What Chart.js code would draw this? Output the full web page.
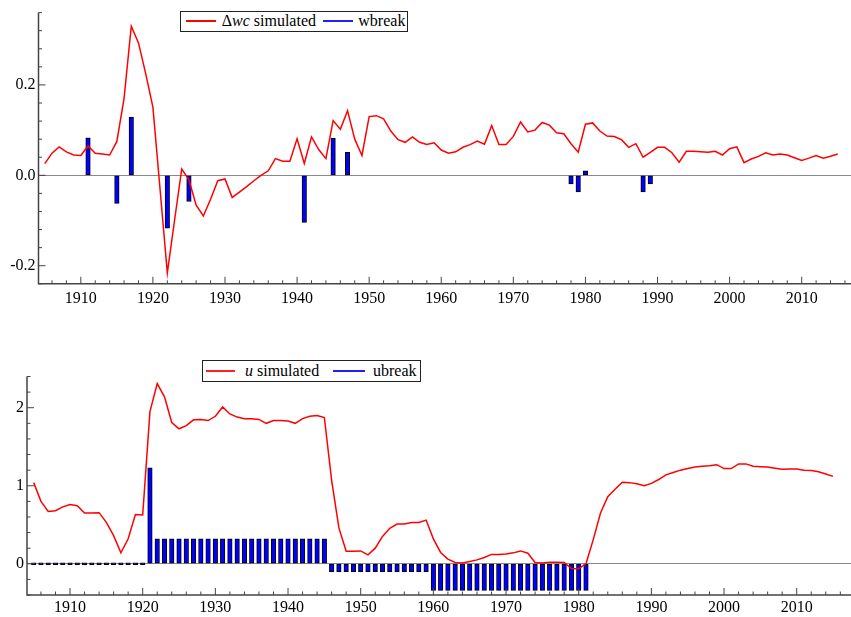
<!DOCTYPE html>
<html>
<head>
<meta charset="utf-8">
<script src="https://cdn.jsdelivr.net/npm/chart.js@4.4.1/dist/chart.umd.min.js"></script>
<style>
  body { margin: 0; background: #fff; width: 851px; height: 617px; overflow: hidden; position: relative;
         font-family: "Times New Roman", "Liberation Serif", "DejaVu Serif", serif; }
  .panel { position: absolute; left: 0; width: 851px; }
  .legend { position: absolute; background: #fff; border: 1px solid #222; box-sizing: border-box; font-size: 16px; color: #000; z-index: 2; }
  .legend .swatch { position: absolute; height: 2px; }
  .legend .label { position: absolute; white-space: nowrap; line-height: 16px; }
</style>
</head>
<body>
<div class="panel" style="top:0;height:320px"><canvas id="wc-chart"></canvas></div>
<div class="panel" style="top:340px;height:277px"><canvas id="u-chart"></canvas></div>

<div class="legend" style="left:180px;top:11px;width:228px;height:21px">
  <span class="swatch" style="left:5px;top:8px;width:30px;background:#ff0000"></span>
  <span class="label" style="left:40.7px;top:1px">&Delta;<i>wc</i> simulated</span>
  <span class="swatch" style="left:141.7px;top:8px;width:30px;background:#2020ff"></span>
  <span class="label" style="left:177.3px;top:1px">wbreak</span>
</div>
<div class="legend" style="left:202px;top:360px;width:219px;height:22px">
  <span class="swatch" style="left:3px;top:9px;width:29px;background:#ff2020"></span>
  <span class="label" style="left:42px;top:2px"><i>u</i> simulated</span>
  <span class="swatch" style="left:130px;top:9px;width:32px;background:#2020ff"></span>
  <span class="label" style="left:170px;top:2px">ubreak</span>
</div>

<script>
// years of the simulated series
const years = [
  1905, 1906, 1907, 1908, 1909, 1910, 1911, 1912, 1913, 1914,
  1915, 1916, 1917, 1918, 1919, 1920, 1921, 1922, 1923, 1924,
  1925, 1926, 1927, 1928, 1929, 1930, 1931, 1932, 1933, 1934,
  1935, 1936, 1937, 1938, 1939, 1940, 1941, 1942, 1943, 1944,
  1945, 1946, 1947, 1948, 1949, 1950, 1951, 1952, 1953, 1954,
  1955, 1956, 1957, 1958, 1959, 1960, 1961, 1962, 1963, 1964,
  1965, 1966, 1967, 1968, 1969, 1970, 1971, 1972, 1973, 1974,
  1975, 1976, 1977, 1978, 1979, 1980, 1981, 1982, 1983, 1984,
  1985, 1986, 1987, 1988, 1989, 1990, 1991, 1992, 1993, 1994,
  1995, 1996, 1997, 1998, 1999, 2000, 2001, 2002, 2003, 2004,
  2005, 2006, 2007, 2008, 2009, 2010, 2011, 2012, 2013, 2014,
  2015
];

const wcSimulated = [
  0.026, 0.049, 0.063, 0.052, 0.045, 0.044, 0.065, 0.049, 0.047, 0.045,
  0.075, 0.170, 0.330, 0.293, 0.225, 0.151, -0.032, -0.216, -0.100, 0.014,
  -0.010, -0.066, -0.090, -0.053, -0.012, -0.008, -0.049, -0.037, -0.025, -0.012,
  0.000, 0.010, 0.037, 0.031, 0.031, 0.081, 0.026, 0.085, 0.057, 0.037,
  0.121, 0.102, 0.143, 0.080, 0.044, 0.130, 0.132, 0.125, 0.098, 0.079,
  0.073, 0.085, 0.073, 0.068, 0.072, 0.056, 0.049, 0.052, 0.062, 0.068,
  0.076, 0.069, 0.110, 0.068, 0.068, 0.086, 0.118, 0.096, 0.100, 0.117,
  0.111, 0.094, 0.092, 0.070, 0.051, 0.113, 0.116, 0.098, 0.087, 0.086,
  0.079, 0.062, 0.070, 0.040, 0.051, 0.062, 0.062, 0.050, 0.029, 0.053,
  0.053, 0.052, 0.051, 0.053, 0.045, 0.059, 0.063, 0.028, 0.036, 0.042,
  0.050, 0.045, 0.047, 0.045, 0.039, 0.033, 0.038, 0.044, 0.038, 0.042,
  0.047
];

const wBreakYears = [1911, 1915, 1917, 1922, 1925, 1941, 1945, 1947, 1978, 1979, 1980, 1988, 1989];
const wBreakValues = [0.083, -0.062, 0.129, -0.117, -0.058, -0.104, 0.082, 0.051, -0.019, -0.037, 0.010, -0.037, -0.019];

const uSimulated = [
  1.04, 0.80, 0.67, 0.68, 0.73, 0.76, 0.745, 0.65, 0.65, 0.655,
  0.53, 0.36, 0.14, 0.32, 0.63, 0.625, 1.95, 2.31, 2.14, 1.81,
  1.73, 1.77, 1.845, 1.85, 1.835, 1.89, 2.01, 1.92, 1.88, 1.86,
  1.86, 1.85, 1.80, 1.835, 1.835, 1.83, 1.80, 1.86, 1.89, 1.90,
  1.875, 1.07, 0.46, 0.16, 0.16, 0.165, 0.115, 0.20, 0.35, 0.455,
  0.51, 0.51, 0.53, 0.53, 0.56, 0.32, 0.145, 0.06, 0.017, 0.01,
  0.03, 0.05, 0.08, 0.12, 0.12, 0.125, 0.14, 0.165, 0.135, 0.017,
  0.01, 0.02, 0.02, 0.017, -0.06, -0.065, 0.0, 0.31, 0.65, 0.86,
  0.955, 1.045, 1.04, 1.025, 1.00, 1.03, 1.08, 1.14, 1.17, 1.20,
  1.22, 1.24, 1.25, 1.255, 1.27, 1.22, 1.22, 1.28, 1.28, 1.25,
  1.245, 1.24, 1.225, 1.21, 1.215, 1.215, 1.20, 1.195, 1.18, 1.15,
  1.12
];

const uBreakYears = [
  1905, 1906, 1907, 1908, 1909, 1910, 1911, 1912, 1913, 1914,
  1915, 1916, 1917, 1918, 1919, 1920, 1921, 1922, 1923, 1924,
  1925, 1926, 1927, 1928, 1929, 1930, 1931, 1932, 1933, 1934,
  1935, 1936, 1937, 1938, 1939, 1940, 1941, 1942, 1943, 1944,
  1945, 1946, 1947, 1948, 1949, 1950, 1951, 1952, 1953, 1954,
  1955, 1956, 1957, 1958, 1959, 1960, 1961, 1962, 1963, 1964,
  1965, 1966, 1967, 1968, 1969, 1970, 1971, 1972, 1973, 1974,
  1975, 1976, 1977, 1978, 1979, 1980, 1981
];
const uBreakValues = [
  0, 0, 0, 0, 0, 0, 0, 0, 0, 0,
  0, 0, 0, 0, 0, 0, 1.23, 0.32, 0.32, 0.32,
  0.32, 0.32, 0.32, 0.32, 0.32, 0.32, 0.32, 0.32, 0.32, 0.32,
  0.32, 0.32, 0.32, 0.32, 0.32, 0.32, 0.32, 0.32, 0.32, 0.32,
  0.32, -0.1, -0.1, -0.1, -0.1, -0.1, -0.1, -0.1, -0.1, -0.1,
  -0.1, -0.1, -0.1, -0.1, -0.1, -0.34, -0.34, -0.34, -0.34, -0.34,
  -0.34, -0.34, -0.34, -0.34, -0.34, -0.34, -0.34, -0.34, -0.34, -0.34,
  -0.34, -0.34, -0.34, -0.34, -0.34, -0.34, -0.34
];

const xTickYears = [1910, 1920, 1930, 1940, 1950, 1960, 1970, 1980, 1990, 2000, 2010];
const wTickValues = [-0.2, 0.0, 0.2];
const uTickValues = [0, 1, 2];

const AXIS_COLOR = '#444';
const FONT = { family: '"Times New Roman", "Liberation Serif", "DejaVu Serif", serif', size: 16 };

const points = (xs, ys) => xs.map((x, i) => ({ x, y: ys[i] }));

// axis lines plus inward major / minor tick marks
const inwardTicks = {
  id: 'inwardTicks',
  afterDraw(chart, args, opts) {
    const { ctx, chartArea: a, scales: { x, y } } = chart;
    ctx.save();
    ctx.strokeStyle = AXIS_COLOR;
    ctx.lineWidth = 1;
    ctx.beginPath();
    for (let k = Math.ceil(x.min / opts.xMinor); k * opts.xMinor <= x.max; k++) {
      const px = x.getPixelForValue(k * opts.xMinor);
      const len = k % opts.ratio === 0 ? 7 : 3.5;
      ctx.moveTo(px, a.bottom);
      ctx.lineTo(px, a.bottom - len);
    }
    for (let k = Math.ceil(y.min / opts.yMinor - 1e-6); k * opts.yMinor <= y.max + 1e-9; k++) {
      const py = y.getPixelForValue(k * opts.yMinor);
      const len = k % opts.ratio === 0 ? 7 : 3.5;
      ctx.moveTo(a.left, py);
      ctx.lineTo(a.left + len, py);
    }
    ctx.stroke();
    ctx.lineWidth = 1.5;
    ctx.beginPath();
    ctx.moveTo(a.left, a.top);
    ctx.lineTo(a.left, a.bottom);
    ctx.lineTo(a.right, a.bottom);
    ctx.stroke();
    ctx.restore();
  }
};

function makeChart(canvasId, cfg) {
  return new Chart(document.getElementById(canvasId), {
    type: 'line',
    data: {
      datasets: [
        {
          type: 'line',
          data: points(years, cfg.line),
          borderColor: '#ff0000',
          borderWidth: 1.5,
          pointRadius: 0,
          tension: 0,
        },
        {
          type: 'bar',
          data: points(cfg.barYears, cfg.barValues),
          backgroundColor: '#0000ff',
          borderColor: '#000',
          borderWidth: 1,
          borderSkipped: false,
          barThickness: 4.5,
          minBarLength: cfg.minBar,
        },
      ],
    },
    options: {
      responsive: true,
      maintainAspectRatio: false,
      animation: false,
      layout: { padding: { top: cfg.padTop, left: 0, right: 0, bottom: 0 } },
      plugins: {
        legend: { display: false },
        tooltip: { enabled: false },
        inwardTicks: cfg.ticks,
      },
      scales: {
        x: {
          type: 'linear',
          min: cfg.xMin,
          max: cfg.xMax,
          offset: false,
          afterFit: (s) => { s.height = cfg.xHeight; },
          afterBuildTicks: (s) => { s.ticks = xTickYears.map((v) => ({ value: v })); },
          ticks: { font: FONT, color: '#000', padding: cfg.xPad, maxRotation: 0, autoSkip: false,
                   callback: (v) => String(v) },
          grid: { display: false, drawTicks: false },
          border: { display: false },
        },
        y: {
          type: 'linear',
          min: cfg.yMin,
          max: cfg.yMax,
          afterFit: (s) => { s.width = cfg.yWidth; },
          afterBuildTicks: (s) => { s.ticks = cfg.yTicks.map((v) => ({ value: v })); },
          ticks: { font: FONT, color: '#000', padding: 3, callback: cfg.yFormat },
          grid: {
            drawTicks: false,
            lineWidth: 1,
            color: (c) => (c.tick && Math.abs(c.tick.value) < 1e-9 ? '#888' : 'rgba(0,0,0,0)'),
          },
          border: { display: false },
        },
      },
    },
    plugins: [inwardTicks],
  });
}

makeChart('wc-chart', {
  line: wcSimulated, barYears: wBreakYears, barValues: wBreakValues, minBar: 0,
  padTop: 12.3, xHeight: 36.2, xPad: 5, yWidth: 38.5,
  xMin: 1904.13, xMax: 2016.84, yMin: -0.24, yMax: 0.36,
  yTicks: wTickValues, yFormat: (v) => v.toFixed(1),
  ticks: { xMinor: 2, yMinor: 0.04, ratio: 5 },
});

makeChart('u-chart', {
  line: uSimulated, barYears: uBreakYears, barValues: uBreakValues, minBar: 2,
  padTop: 36.5, xHeight: 22, xPad: 3, yWidth: 27,
  xMin: 1904.08, xMax: 2017.47, yMin: -0.4, yMax: 2.4,
  yTicks: uTickValues, yFormat: (v) => String(v),
  ticks: { xMinor: 2, yMinor: 0.2, ratio: 5 },
});
</script>
</body>
</html>
